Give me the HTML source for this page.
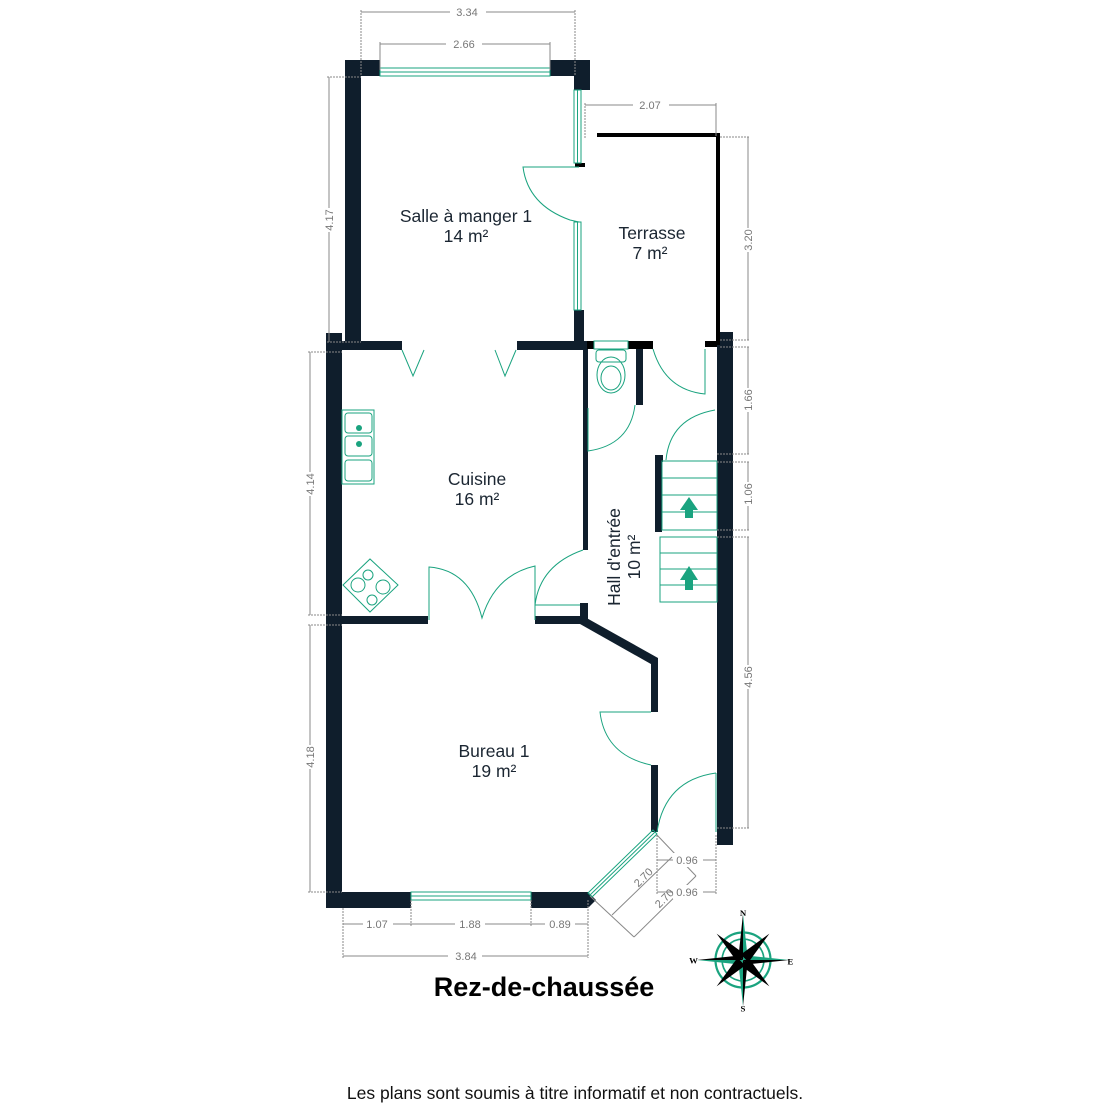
<!DOCTYPE html>
<html><head><meta charset="utf-8"><style>
html,body{margin:0;padding:0;background:#fff;width:1104px;height:1104px;overflow:hidden}
svg{display:block}
</style></head><body>
<svg width="1104" height="1104" viewBox="0 0 1104 1104" xmlns="http://www.w3.org/2000/svg" font-family="Liberation Sans, Arial, sans-serif">
<g fill="#0f1e2c">
<rect x="345" y="60" width="16" height="285"/>
<rect x="345" y="60" width="35" height="16"/>
<rect x="550" y="60" width="40" height="16"/>
<rect x="574" y="60" width="16" height="30"/>
<rect x="574" y="310" width="10" height="40"/>
<rect x="575" y="163" width="10" height="4" fill="#000"/>
<rect x="326" y="333" width="16" height="292"/>
<rect x="326" y="341" width="76" height="9"/>
<rect x="517" y="341" width="70" height="9"/>
<rect x="583" y="345" width="5" height="205"/>
<rect x="580" y="603" width="8" height="18"/>
<rect x="342" y="616" width="86" height="8"/>
<rect x="535" y="616" width="50" height="8"/>
<polygon points="583,616 658,658 658,668 580,624"/>
<rect x="651" y="660" width="7" height="52"/>
<rect x="651" y="765" width="7" height="67"/>
<rect x="587" y="341" width="7" height="8" fill="#000"/>
<rect x="628" y="341" width="25" height="8" fill="#000"/>
<rect x="636" y="349" width="7" height="56"/>
<rect x="705" y="341" width="15" height="6" fill="#000"/>
<rect x="717" y="332" width="16" height="513"/>
<rect x="655" y="455" width="7" height="77"/>
<rect x="655" y="455" width="8" height="7"/>
<rect x="326" y="620" width="16" height="288"/>
<rect x="326" y="892" width="85" height="16"/>
<rect x="531" y="892" width="57" height="16"/>
<polygon points="588,892 596,900 588,908"/>
</g>
<rect x="597" y="133" width="123" height="4" fill="#000"/>
<rect x="716" y="133" width="4" height="212" fill="#000"/>
<g fill="none" stroke="#1aa37f" stroke-width="1">
<rect x="380" y="68" width="170" height="8"/><line x1="380" y1="72" x2="550" y2="72"/>
<rect x="574" y="90" width="7" height="73"/><line x1="577.5" y1="90" x2="577.5" y2="163"/>
<rect x="574" y="222" width="7" height="88"/><line x1="577.5" y1="222" x2="577.5" y2="310"/>
<rect x="411" y="892" width="120" height="8"/><line x1="411" y1="896" x2="531" y2="896"/>
<polygon points="588,893 653,830 657,834 592,897"/><line x1="590" y1="895" x2="655" y2="832"/>
<rect x="594" y="341" width="34" height="8"/>
<path d="M579,167 L523,167 Q528,205 570,220 L579,222"/>
<path d="M402,350 L413,376 L424,350"/>
<path d="M495,350 L505,376 L516,350"/>
<path d="M429,620 L429,567 Q470,570 482,618 Q495,575 535,566 L535,620"/>
<path d="M535,605 L580,605 M535,605 Q540,565 583,550"/>
<path d="M588,408 L588,451 Q630,445 635,405"/>
<path d="M653,349 Q665,390 705,394 L705,349"/>
<path d="M715,410 Q670,418 666,460"/>
<path d="M651,712 L600,712 Q605,755 651,765"/>
<path d="M716,773 L716,832 M716,773 Q665,780 657,832"/>
<rect x="662" y="461" width="55" height="69"/>
<line x1="662" y1="478" x2="717" y2="478"/><line x1="662" y1="495" x2="717" y2="495"/><line x1="662" y1="512" x2="717" y2="512"/>
<rect x="660" y="537" width="57" height="65"/>
<line x1="660" y1="553" x2="717" y2="553"/><line x1="660" y1="569" x2="717" y2="569"/><line x1="660" y1="585" x2="717" y2="585"/>
<rect x="596" y="350" width="30" height="12" rx="3"/>
<ellipse cx="611" cy="375" rx="14" ry="18"/>
<ellipse cx="611" cy="378" rx="10" ry="12"/>
<rect x="342" y="410" width="32" height="74"/>
<rect x="345" y="413" width="27" height="20" rx="3"/>
<rect x="345" y="436" width="27" height="20" rx="3"/>
<rect x="345" y="460" width="27" height="21" rx="3"/>
<polygon points="343,585 370,559 398,585 370,612"/>
<circle cx="358" cy="585" r="7"/><circle cx="368" cy="575" r="5"/><circle cx="383" cy="587" r="7"/><circle cx="372" cy="600" r="5"/>
</g>
<g fill="#1aa37f">
<circle cx="359" cy="428" r="3"/><circle cx="359" cy="444" r="3"/>
<polygon points="689,497 698,510 693,510 693,518 685,518 685,510 680,510"/>
<polygon points="689,566 698,580 693,580 693,590 685,590 685,580 680,580"/>
</g>
<g stroke="#888" stroke-width="1" fill="none">
<line x1="361" y1="12" x2="575" y2="12"/><line x1="361" y1="10" x2="361" y2="76" stroke-dasharray="2,1"/><line x1="575" y1="10" x2="575" y2="76" stroke-dasharray="2,1"/>
<line x1="380" y1="44" x2="550" y2="44"/><line x1="380" y1="42" x2="380" y2="70"/><line x1="550" y1="42" x2="550" y2="70"/>
<line x1="585" y1="105" x2="716" y2="105"/><line x1="585" y1="103" x2="585" y2="138" stroke-dasharray="2,1"/><line x1="716" y1="103" x2="716" y2="136"/>
<line x1="329" y1="77" x2="329" y2="342"/><line x1="327" y1="77" x2="361" y2="77" stroke-dasharray="2,1"/><line x1="327" y1="342" x2="361" y2="342" stroke-dasharray="2,1"/>
<line x1="310" y1="352" x2="310" y2="615"/><line x1="308" y1="352" x2="342" y2="352" stroke-dasharray="2,1"/><line x1="308" y1="615" x2="342" y2="615" stroke-dasharray="2,1"/>
<line x1="310" y1="625" x2="310" y2="892"/><line x1="308" y1="625" x2="342" y2="625" stroke-dasharray="2,1"/><line x1="308" y1="892" x2="342" y2="892" stroke-dasharray="2,1"/>
<line x1="748" y1="137" x2="748" y2="340"/><line x1="720" y1="137" x2="750" y2="137" stroke-dasharray="2,1"/><line x1="720" y1="340" x2="750" y2="340" stroke-dasharray="2,1"/>
<line x1="748" y1="347" x2="748" y2="454"/><line x1="720" y1="347" x2="750" y2="347" stroke-dasharray="2,1"/>
<line x1="748" y1="462" x2="748" y2="530"/><line x1="717" y1="454" x2="750" y2="454" stroke-dasharray="2,1"/><line x1="717" y1="462" x2="750" y2="462" stroke-dasharray="2,1"/><line x1="717" y1="530" x2="750" y2="530" stroke-dasharray="2,1"/>
<line x1="748" y1="537" x2="748" y2="828"/><line x1="717" y1="537" x2="750" y2="537" stroke-dasharray="2,1"/><line x1="717" y1="828" x2="750" y2="828" stroke-dasharray="2,1"/>
<line x1="343" y1="924" x2="531" y2="924"/><line x1="531" y1="924" x2="588" y2="924"/>
<line x1="343" y1="908" x2="343" y2="958" stroke-dasharray="2,1"/><line x1="411" y1="900" x2="411" y2="926" stroke-dasharray="2,1"/><line x1="531" y1="900" x2="531" y2="926" stroke-dasharray="2,1"/><line x1="588" y1="900" x2="588" y2="958" stroke-dasharray="2,1"/>
<line x1="343" y1="956" x2="588" y2="956"/>
<line x1="657" y1="860" x2="716" y2="860"/><line x1="657" y1="892" x2="716" y2="892"/>
<line x1="657" y1="835" x2="657" y2="894" stroke-dasharray="2,1"/><line x1="716" y1="835" x2="716" y2="894" stroke-dasharray="2,1"/>
<line x1="612" y1="915" x2="672" y2="857"/><line x1="634" y1="937" x2="696" y2="876"/>
<line x1="657" y1="835" x2="696" y2="876"/><line x1="590" y1="896" x2="634" y2="937"/>
</g>
<g font-size="11" fill="#777" text-anchor="middle">
<rect x="450" y="5" width="36" height="14" fill="#fff"/><text x="467" y="16">3.34</text>
<rect x="446" y="37" width="36" height="14" fill="#fff"/><text x="464" y="48">2.66</text>
<rect x="633" y="98" width="36" height="14" fill="#fff"/><text x="650" y="109">2.07</text>
<rect x="363" y="917" width="30" height="14" fill="#fff"/><text x="377" y="928">1.07</text>
<rect x="455" y="917" width="30" height="14" fill="#fff"/><text x="470" y="928">1.88</text>
<rect x="545" y="917" width="30" height="14" fill="#fff"/><text x="560" y="928">0.89</text>
<rect x="448" y="949" width="34" height="14" fill="#fff"/><text x="466" y="960">3.84</text>
<rect x="673" y="853" width="30" height="14" fill="#fff"/><text x="687" y="864">0.96</text>
<rect x="673" y="885" width="30" height="14" fill="#fff"/><text x="687" y="896">0.96</text>
<text transform="translate(646,880) rotate(-45)">2.70</text>
<text transform="translate(667,901) rotate(-45)">2.70</text>
<g transform="translate(333,220) rotate(-90)"><rect x="-12" y="-9" width="24" height="12" fill="#fff"/><text>4.17</text></g>
<g transform="translate(314,484) rotate(-90)"><rect x="-12" y="-9" width="24" height="12" fill="#fff"/><text>4.14</text></g>
<g transform="translate(314,757) rotate(-90)"><rect x="-12" y="-9" width="24" height="12" fill="#fff"/><text>4.18</text></g>
<g transform="translate(752,240) rotate(-90)"><rect x="-12" y="-9" width="24" height="12" fill="#fff"/><text>3.20</text></g>
<g transform="translate(752,400) rotate(-90)"><rect x="-12" y="-9" width="24" height="12" fill="#fff"/><text>1.66</text></g>
<g transform="translate(752,494) rotate(-90)"><rect x="-12" y="-9" width="24" height="12" fill="#fff"/><text>1.06</text></g>
<g transform="translate(752,677) rotate(-90)"><rect x="-12" y="-9" width="24" height="12" fill="#fff"/><text>4.56</text></g>
</g>
<g font-size="17.5" fill="#1b2632" text-anchor="middle">
<text x="466" y="222">Salle à manger 1</text><text x="466" y="242">14 m²</text>
<text x="652" y="239">Terrasse</text><text x="650" y="259">7 m²</text>
<text x="477" y="485">Cuisine</text><text x="477" y="505">16 m²</text>
<text x="494" y="757">Bureau 1</text><text x="494" y="777">19 m²</text>
<g transform="translate(620,557) rotate(-90)"><text>Hall d'entrée</text><text y="20">10 m²</text></g>
</g>
<text x="544" y="996" font-size="27" font-weight="bold" text-anchor="middle" fill="#000">Rez-de-chaussée</text>
<text x="575" y="1099" font-size="17.5" text-anchor="middle" fill="#111">Les plans sont soumis à titre informatif et non contractuels.</text>
<g transform="translate(743,960) scale(1.1)">
<circle r="25" fill="none" stroke="#1aa37f" stroke-width="2"/><circle r="19" fill="none" stroke="#1aa37f" stroke-width="1.5"/>
<polygon points="0,-42 4,-4 0,0" fill="#1aa37f"/><polygon points="0,-42 -4,-4 0,0" fill="#000"/>
<polygon points="0,42 -4,4 0,0" fill="#1aa37f"/><polygon points="0,42 4,4 0,0" fill="#000"/>
<polygon points="-42,0 -4,4 0,0" fill="#1aa37f"/><polygon points="-42,0 -4,-4 0,0" fill="#000"/>
<polygon points="42,0 4,-4 0,0" fill="#1aa37f"/><polygon points="42,0 4,4 0,0" fill="#000"/>
<polygon points="-24,-24 -5,2 2,-5" fill="#000"/><polygon points="24,-24 5,2 -2,-5" fill="#000"/>
<polygon points="-24,24 -5,-2 2,5" fill="#000"/><polygon points="24,24 5,-2 -2,5" fill="#000"/>
<g font-family="Liberation Serif, serif" font-size="8" font-weight="bold" text-anchor="middle">
<text y="-40">N</text><text y="47">S</text><text x="-45" y="3">W</text><text x="43" y="4">E</text></g>
</g>
</svg>
</body></html>
